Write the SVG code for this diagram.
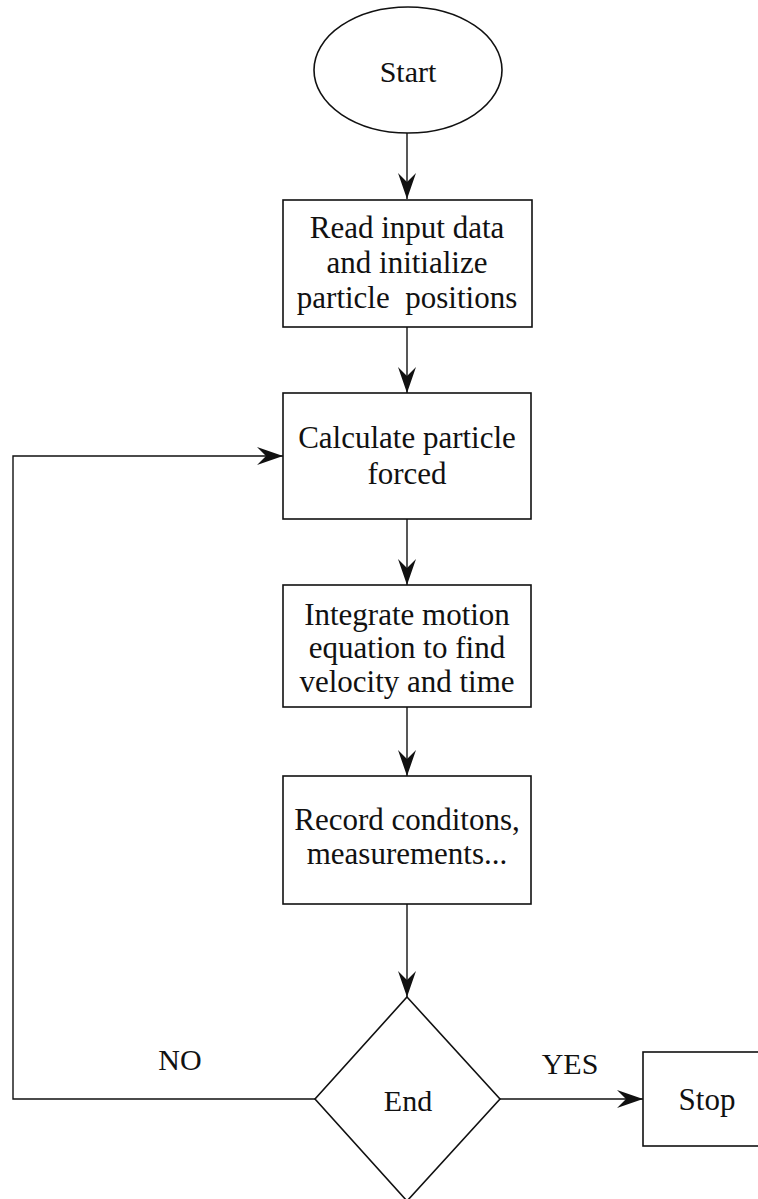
<svg xmlns="http://www.w3.org/2000/svg" width="758" height="1199" viewBox="0 0 758 1199">
  <style>
    .shape { fill: #fff; stroke: #111; stroke-width: 1.6; }
    .line { fill: none; stroke: #111; stroke-width: 1.4; }
    .txt { font-family: "Liberation Serif", "Times New Roman", serif; fill: #111; text-anchor: middle; }
    .box { font-size: 31px; }
    .lbl { font-size: 30px; }
  </style>
  <defs>
    <marker id="arrow" viewBox="0 0 26 18" refX="26" refY="9" markerWidth="26" markerHeight="18" markerUnits="userSpaceOnUse" orient="auto">
      <path d="M26,9 L0,0 L9,9 L0,18 Z" fill="#111"/>
    </marker>
  </defs>

  <g id="connectors">
    <line class="line" x1="407" y1="133" x2="407" y2="199" marker-end="url(#arrow)"/>
    <line class="line" x1="407" y1="327" x2="407" y2="393" marker-end="url(#arrow)"/>
    <line class="line" x1="407" y1="519" x2="407" y2="585" marker-end="url(#arrow)"/>
    <line class="line" x1="407" y1="707" x2="407" y2="776" marker-end="url(#arrow)"/>
    <line class="line" x1="407" y1="904" x2="407" y2="997" marker-end="url(#arrow)"/>
    <polyline class="line" points="315,1099 13,1099 13,456 283,456" marker-end="url(#arrow)"/>
    <line class="line" x1="500" y1="1099" x2="643" y2="1099" marker-end="url(#arrow)"/>
    <text class="txt lbl" x="180" y="1070">NO</text>
    <text class="txt lbl" x="570" y="1074">YES</text>
  </g>

  <g id="start">
    <ellipse class="shape" cx="408" cy="70" rx="94" ry="63"/>
    <text class="txt lbl" x="408" y="82">Start</text>
  </g>

  <g id="read-input">
    <rect class="shape" x="283" y="200" width="249" height="127"/>
    <text class="txt box" x="407" y="238">Read input data</text>
    <text class="txt box" x="407" y="273">and initialize</text>
    <text class="txt box" x="407" y="308" style="white-space:pre">particle  positions</text>
  </g>

  <g id="calc-forces">
    <rect class="shape" x="283" y="393" width="248" height="126"/>
    <text class="txt box" x="407" y="448">Calculate particle</text>
    <text class="txt box" x="407" y="484">forced</text>
  </g>

  <g id="integrate">
    <rect class="shape" x="283" y="585" width="248" height="122"/>
    <text class="txt box" x="407" y="625">Integrate motion</text>
    <text class="txt box" x="407" y="658">equation to find</text>
    <text class="txt box" x="407" y="692">velocity and time</text>
  </g>

  <g id="record">
    <rect class="shape" x="283" y="776" width="248" height="128"/>
    <text class="txt box" x="407" y="830">Record conditons,</text>
    <text class="txt box" x="407" y="864">measurements...</text>
  </g>

  <g id="end-decision">
    <polygon class="shape" points="407,997 500,1099 407,1201 315,1099"/>
    <text class="txt lbl" x="408" y="1111">End</text>
  </g>

  <g id="stop">
    <rect class="shape" x="643" y="1052" width="130" height="94"/>
    <text class="txt box" x="707" y="1110">Stop</text>
  </g>
</svg>
